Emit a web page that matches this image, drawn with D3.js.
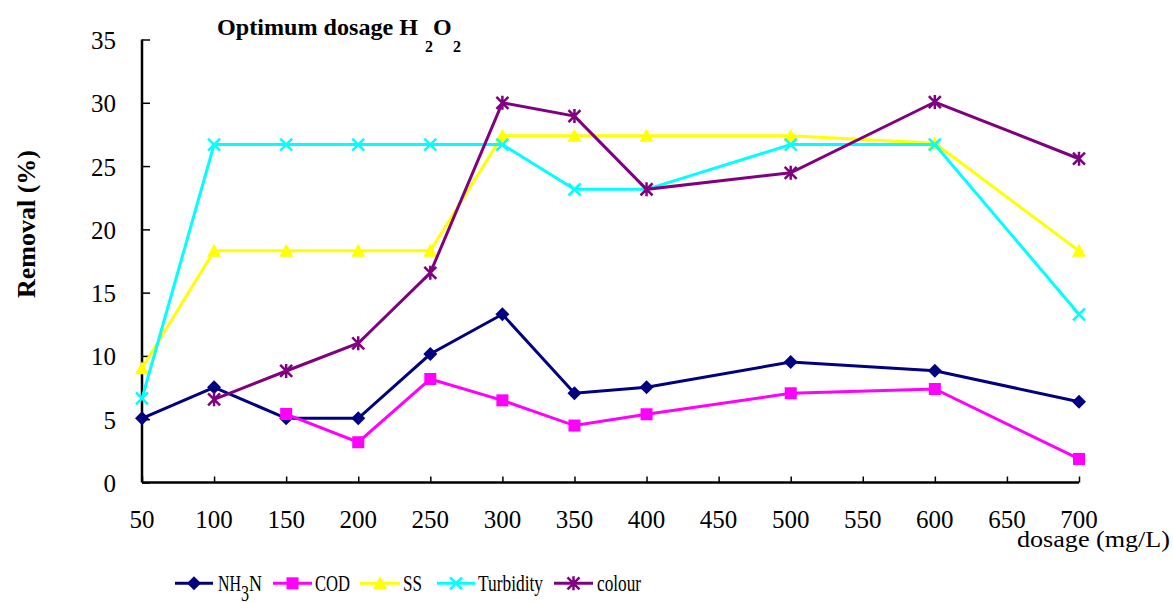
<!DOCTYPE html>
<html><head><meta charset="utf-8">
<script src="https://cdn.jsdelivr.net/npm/d3@7/dist/d3.min.js"></script>
<style>body{margin:0;background:#fff}svg{display:block}text{font-family:"Liberation Serif","Times New Roman",serif;fill:#000}</style>
</head><body>
<svg id="c" width="1173" height="603"></svg>
<script>
const dosage = [50,100,150,200,250,300,350,400,500,600,700];
const nh3n = [5.07,7.52,5.07,5.07,10.15,13.29,7.05,7.52,9.52,8.83,6.38];
const cod = [null,null,5.41,3.18,8.18,6.49,4.5,5.39,7.05,7.39,1.86];
const ss = [9.02,18.3,18.3,18.3,18.3,27.4,27.4,27.4,27.4,26.8,18.3];
const turbidity = [6.65,26.7,26.7,26.7,26.7,26.7,23.16,23.16,26.7,26.7,13.29];
const colour = [null,6.57,8.81,11.0,16.57,30.0,28.95,23.16,24.47,30.06,25.58];
const xTicks = [50,100,150,200,250,300,350,400,450,500,550,600,650,700];
const yTicks = [0,5,10,15,20,25,30,35];
const seriesNames = ["NH3N","COD","SS","Turbidity","colour"];

const svg = d3.select("#c");
const x = d3.scaleLinear().domain([50,700]).range([142,1079]);
const y = d3.scaleLinear().domain([0,35]).range([482.5,39.5]);

// axes
const yAx = d3.axisRight(y).tickValues(yTicks).tickSize(8).tickFormat("");
const gy = svg.append("g").attr("transform","translate(142,0)").call(yAx);
gy.select(".domain").attr("stroke","#000").attr("stroke-width",2.5).attr("d","M0,39.5V482.5");
gy.selectAll(".tick line").attr("stroke","#000").attr("stroke-width",1.5);
const xAx = d3.axisTop(x).tickValues(xTicks).tickSize(6).tickFormat("");
const gx = svg.append("g").attr("transform","translate(0,482.5)").call(xAx);
gx.select(".domain").attr("stroke","#000").attr("stroke-width",2.5).attr("d","M142,0H1079");
gx.selectAll(".tick line").attr("stroke","#000").attr("stroke-width",1.5);

svg.append("g").selectAll("text").data(yTicks).join("text")
  .attr("x",116).attr("y",d=>y(d)+9.5).attr("text-anchor","end")
  .style("font-size","25px").text(d=>d);
svg.append("g").selectAll("text").data(xTicks).join("text")
  .attr("x",d=>x(d)).attr("y",528).attr("text-anchor","middle")
  .style("font-size","25px").text(d=>d);

// titles
const t = svg.append("text").attr("x",217).attr("y",35).style("font-size","24px").style("font-weight","bold");
t.append("tspan").text("Optimum dosage H").attr("textLength",201).attr("lengthAdjust","spacingAndGlyphs");
t.append("tspan").text("2").attr("x",425).attr("y",52).style("font-size","16px");
t.append("tspan").text("O").attr("x",433).attr("y",35);
t.append("tspan").text("2").attr("x",453).attr("y",52).style("font-size","16px");

svg.append("text").attr("transform","translate(35,224) rotate(-90)").attr("text-anchor","middle")
  .style("font-size","26px").style("font-weight","bold")
  .attr("textLength",148).attr("lengthAdjust","spacingAndGlyphs").text("Removal (%)");
svg.append("text").attr("x",1017).attr("y",547).style("font-size","24px")
  .attr("textLength",153).attr("lengthAdjust","spacingAndGlyphs").text("dosage (mg/L)");

// series
const series = [
  {name:"NH3N", vals:nh3n, color:"#000080", marker:"diamond"},
  {name:"COD", vals:cod, color:"#FF00FF", marker:"square"},
  {name:"SS", vals:ss, color:"#FFFF00", marker:"triangle"},
  {name:"Turbidity", vals:turbidity, color:"#00FFFF", marker:"x"},
  {name:"colour", vals:colour, color:"#800080", marker:"star"}
];
function drawMarker(g, type, color){
  if(type==="diamond") g.append("path").attr("d","M0,-7L7,0L0,7L-7,0Z").attr("fill",color);
  else if(type==="square") g.append("rect").attr("x",-6).attr("y",-6).attr("width",12).attr("height",12).attr("fill",color);
  else if(type==="triangle") g.append("path").attr("d","M0,-7L7,6L-7,6Z").attr("fill",color);
  else if(type==="x") g.append("path").attr("d","M-6,-6L6,6M-6,6L6,-6").attr("stroke",color).attr("stroke-width",2.5).attr("fill","none");
  else if(type==="star") g.append("path").attr("d","M-6,-6L6,6M-6,6L6,-6M0,-7L0,7").attr("stroke",color).attr("stroke-width",2.5).attr("fill","none");
}
const line = d3.line().defined(d=>d[1]!=null).x(d=>x(d[0])).y(d=>y(d[1]));
series.forEach(s=>{
  const pts = dosage.map((d,i)=>[d,s.vals[i]]);
  const g = svg.append("g");
  g.append("path").datum(pts).attr("d",line).attr("fill","none").attr("stroke",s.color).attr("stroke-width",3);
  pts.filter(p=>p[1]!=null).forEach(p=>{
    drawMarker(g.append("g").attr("transform",`translate(${x(p[0])},${y(p[1])})`), s.marker, s.color);
  });
});

// legend
const leg = [
  {x0:175,x1:213,tx:218,tw:44},
  {x0:273,x1:312,tx:315,tw:35},
  {x0:360,x1:400,tx:403,tw:19},
  {x0:437,x1:475,tx:478,tw:65},
  {x0:554,x1:593,tx:597,tw:44}
];
const ly = 583.3;
series.forEach((s,i)=>{
  const L = leg[i];
  const g = svg.append("g");
  g.append("line").attr("x1",L.x0).attr("x2",L.x1).attr("y1",ly).attr("y2",ly).attr("stroke",s.color).attr("stroke-width",3);
  drawMarker(g.append("g").attr("transform",`translate(${(L.x0+L.x1)/2},${ly})`), s.marker, s.color);
  const tx = g.append("text").attr("x",L.tx).attr("y",591).style("font-size","23px");
  if(s.name==="NH3N"){
    tx.append("tspan").text("NH").attr("textLength",23).attr("lengthAdjust","spacingAndGlyphs");
    tx.append("tspan").text("3").attr("x",241).attr("y",601).attr("textLength",8).attr("lengthAdjust","spacingAndGlyphs");
    tx.append("tspan").text("N").attr("x",249).attr("y",591).attr("textLength",13).attr("lengthAdjust","spacingAndGlyphs");
  } else {
    tx.attr("textLength",L.tw).attr("lengthAdjust","spacingAndGlyphs").text(s.name);
  }
});
</script>
</body></html>
